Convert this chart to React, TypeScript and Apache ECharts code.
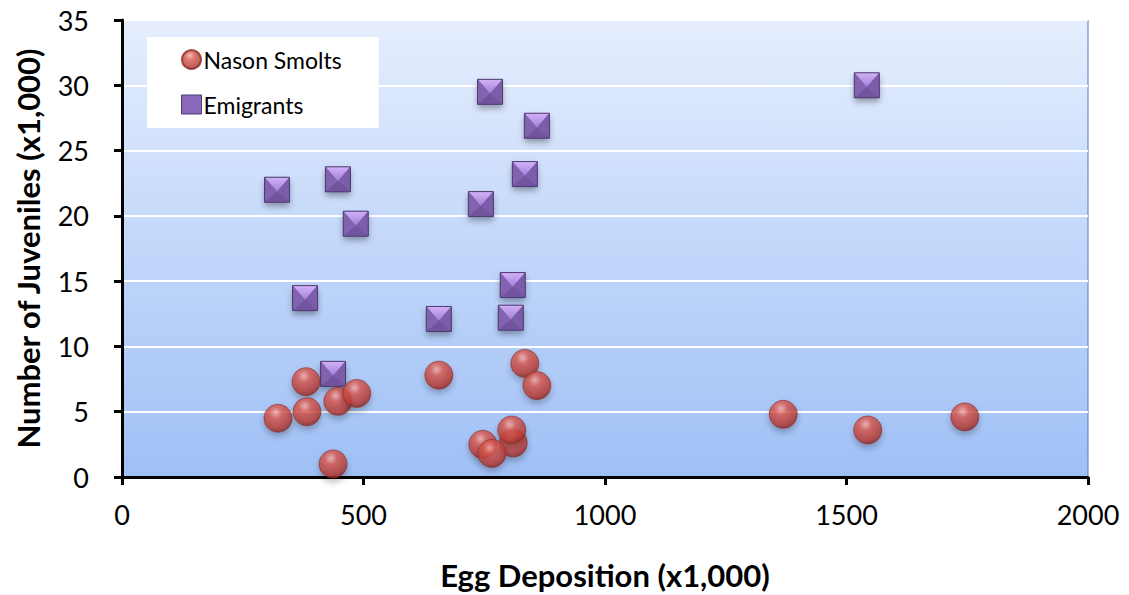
import React, { useEffect, useRef } from "react";
import * as echarts from "echarts";

const xTitle = "Egg Deposition (x1,000)";
const yTitle = "Number of Juveniles (x1,000)";
const seriesNames = ["Nason Smolts", "Emigrants"];

const smoltEggs = [323, 381, 383, 447, 486, 437, 656, 834, 859, 810, 807, 747, 766, 1369, 1544, 1745];
const smoltCounts = [4.5, 7.3, 5.0, 5.8, 6.4, 1.0, 7.8, 8.7, 7.0, 2.6, 3.6, 2.5, 1.8, 4.8, 3.6, 4.6];

const emigrantEggs = [321, 447, 484, 379, 437, 762, 859, 834, 743, 809, 805, 656, 1542];
const emigrantCounts = [22.0, 22.8, 19.4, 13.7, 7.9, 29.5, 26.9, 23.2, 20.9, 14.7, 12.2, 12.1, 30.0];

const FONT = "Lato, 'Open Sans', sans-serif";

export default function App() {
  const ref = useRef<HTMLDivElement>(null);
  useEffect(() => {
    if (!ref.current) return;
    const chart = echarts.init(ref.current, undefined, { renderer: "svg" });
    const sphere = new echarts.graphic.RadialGradient(0.42, 0.3, 0.75, [
      { offset: 0, color: "#f8b0aa" },
      { offset: 0.3, color: "#d9574f" },
      { offset: 0.75, color: "#b73a33" },
      { offset: 1, color: "#7a221e" },
    ]);
    const H = 12.5;
    const renderPyramid = (params: any, api: any) => {
      const p = api.coord([api.value(0), api.value(1)]);
      const x0 = p[0] - H, x1 = p[0] + H, y0 = p[1] - H, y1 = p[1] + H;
      const c = [p[0], p[1] + 2];
      return {
        type: "group",
        children: [
          {
            type: "rect",
            shape: { x: x0, y: y0, width: 2 * H, height: 2 * H },
            style: { fill: "#75579f", shadowBlur: 6, shadowOffsetY: 4, shadowColor: "rgba(0,0,0,0.35)" },
          },
          {
            type: "polygon",
            shape: { points: [[x0, y0], [x1, y0], c] },
            style: {
              fill: new echarts.graphic.LinearGradient(0, 0, 0, 1, [
                { offset: 0, color: "#d2b2f8" },
                { offset: 1, color: "#a47fd6" },
              ]),
            },
          },
          { type: "polygon", shape: { points: [[x0, y0], c, [x0, y1]] }, style: { fill: "#8263b0" } },
          { type: "polygon", shape: { points: [[x1, y0], [x1, y1], c] }, style: { fill: "#7c5daa" } },
          { type: "polygon", shape: { points: [[x0, y1], c, [x1, y1]] }, style: { fill: "#72549e" } },
          {
            type: "rect",
            shape: { x: x0, y: y0, width: 2 * H, height: 2 * H },
            style: { fill: "none", stroke: "#4d3a70", lineWidth: 1 },
          },
        ],
      };
    };
    chart.setOption({
      animation: false,
      textStyle: { fontFamily: FONT },
      grid: {
        left: 122,
        right: 41,
        top: 20,
        bottom: 114,
        show: true,
        borderColor: "#4a7ebb",
        borderWidth: 1,
        backgroundColor: new echarts.graphic.LinearGradient(0, 0, 0, 1, [
          { offset: 0, color: "#e6eefe" },
          { offset: 1, color: "#9fc0f6" },
        ]),
      },
      legend: {
        left: 147,
        top: 37,
        orient: "vertical",
        backgroundColor: "#ffffff",
        padding: [11, 37, 12, 34],
        itemGap: 22,
        itemWidth: 20,
        itemHeight: 19,
        textStyle: { fontSize: 23, color: "#000", fontFamily: FONT, padding: [0, 0, 0, -3] },
        data: [
          { name: seriesNames[0], icon: "circle" },
          { name: seriesNames[1], icon: "rect", itemStyle: { color: "#8a68ba", borderColor: "#4d3a70", borderWidth: 1 } },
        ],
      },
      xAxis: {
        type: "value",
        min: 0,
        max: 2000,
        interval: 500,
        name: xTitle,
        nameLocation: "middle",
        nameGap: 82,
        nameTextStyle: { fontSize: 31, fontWeight: "bold", color: "#000", fontFamily: FONT },
        axisLine: { show: true, onZero: false, lineStyle: { color: "#000", width: 3 } },
        axisTick: { show: true, length: 8, lineStyle: { color: "#000", width: 3 } },
        axisLabel: { fontSize: 27, color: "#000", margin: 24, fontFamily: FONT, formatter: (v: number) => String(v) },
        splitLine: { show: false },
      },
      yAxis: {
        type: "value",
        min: 0,
        max: 35,
        interval: 5,
        name: yTitle,
        nameLocation: "middle",
        nameGap: 79,
        nameRotate: 90,
        nameTextStyle: { fontSize: 31, fontWeight: "bold", color: "#000", fontFamily: FONT },
        axisLine: { show: true, onZero: false, lineStyle: { color: "#000", width: 3 } },
        axisTick: { show: true, length: 8, lineStyle: { color: "#000", width: 3 } },
        axisLabel: { fontSize: 27, color: "#000", margin: 33, fontFamily: FONT },
        splitLine: { show: true, lineStyle: { color: "#ffffff", width: 2 } },
      },
      series: [
        {
          name: seriesNames[0],
          type: "scatter",
          symbol: "circle",
          symbolSize: 28,
          data: smoltEggs.map((x, i) => [x, smoltCounts[i]]),
          itemStyle: {
            color: sphere,
            borderColor: "#8a2c27",
            borderWidth: 0.8,
            shadowBlur: 6,
            shadowOffsetY: 4,
            shadowColor: "rgba(0,0,0,0.3)",
          },
          z: 2,
        },
        {
          name: seriesNames[1],
          type: "custom",
          renderItem: renderPyramid,
          data: emigrantEggs.map((x, i) => [x, emigrantCounts[i]]),
          encode: { x: 0, y: 1 },
          itemStyle: { color: "#8a68ba" },
          z: 1,
        },
      ],
    });
    return () => chart.dispose();
  }, []);
  return <div ref={ref} style={{ width: 1129, height: 595, position: "absolute", left: 0, top: 0 }} />;
}
